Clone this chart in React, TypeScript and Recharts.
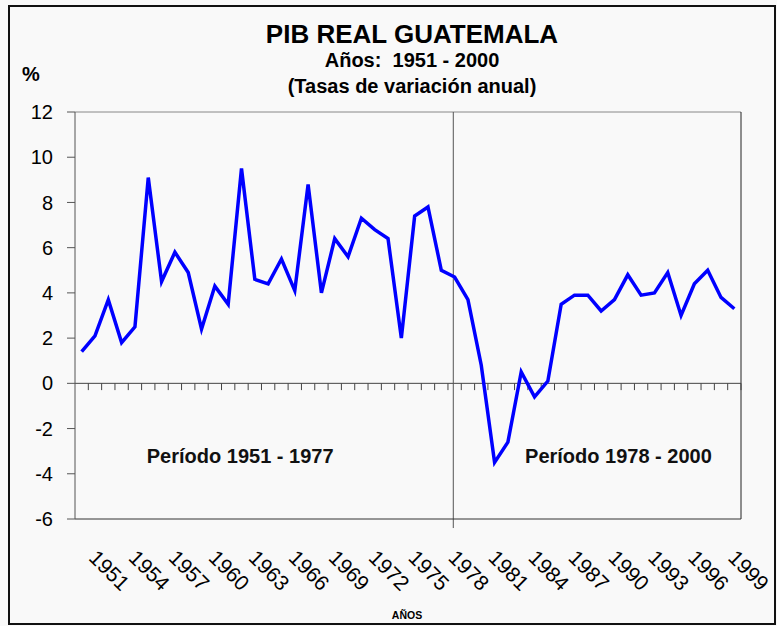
import { LineChart, Line, XAxis, YAxis, ReferenceLine, ReferenceDot } from 'recharts';

const years = [
  1951, 1952, 1953, 1954, 1955, 1956, 1957, 1958, 1959, 1960,
  1961, 1962, 1963, 1964, 1965, 1966, 1967, 1968, 1969, 1970,
  1971, 1972, 1973, 1974, 1975, 1976, 1977, 1978, 1979, 1980,
  1981, 1982, 1983, 1984, 1985, 1986, 1987, 1988, 1989, 1990,
  1991, 1992, 1993, 1994, 1995, 1996, 1997, 1998, 1999, 2000
];

// tasas de variacion anual (%)
const pibGrowth = [
  1.4, 2.1, 3.7, 1.8, 2.5, 9.1, 4.5, 5.8, 4.9, 2.4,
  4.3, 3.5, 9.5, 4.6, 4.4, 5.5, 4.1, 8.8, 4.0, 6.4,
  5.6, 7.3, 6.8, 6.4, 2.0, 7.4, 7.8, 5.0, 4.7, 3.7,
  0.8, -3.5, -2.6, 0.5, -0.6, 0.1, 3.5, 3.9, 3.9, 3.2,
  3.7, 4.8, 3.9, 4.0, 4.9, 3.0, 4.4, 5.0, 3.8, 3.3
];

const yearTicks = [1951, 1954, 1957, 1960, 1963, 1966, 1969, 1972, 1975, 1978, 1981, 1984, 1987, 1990, 1993, 1996, 1999];
const valueTicks = [-6, -4, -2, 0, 2, 4, 6, 8, 10, 12];

const periodLabels = [
  { text: 'Período 1951 - 1977', x: 1962.9, y: -3.22 },
  { text: 'Período 1978 - 2000', x: 1991.3, y: -3.22 }
];
const periodSplit = 1978.9;

const FONT = '"Liberation Sans", Arial, sans-serif';

const data = years.map((year, i) => ({ year, pib: pibGrowth[i] }));

function YearTick({ x, y, payload }: any) {
  return (
    <text
      transform={`translate(${x + 6},${y + 40}) rotate(45)`}
      fontSize={21}
      fontFamily={FONT}
      fill="#000"
    >
      {payload.value}
    </text>
  );
}

export default function App() {
  return (
    <div style={{ position: 'absolute', left: 0, top: 0, width: 777, height: 626, background: '#f9f9f9', fontFamily: FONT }}>
      <LineChart width={777} height={626} data={data} margin={{ top: 112, right: 36, bottom: 57, left: 0 }}>
        <XAxis
          dataKey="year"
          type="number"
          domain={[1950.5, 2000.5]}
          ticks={yearTicks}
          height={50}
          tickSize={0}
          tickMargin={0}
          tickLine={false}
          axisLine={{ stroke: '#333' }}
          tick={<YearTick />}
          interval={0}
        />
        <YAxis
          domain={[-6, 12]}
          ticks={valueTicks}
          width={75}
          tickSize={8}
          tickMargin={14}
          axisLine={{ stroke: '#555' }}
          tickLine={{ stroke: '#555' }}
          tick={{ fontSize: 20, fill: '#000', fontFamily: FONT }}
          interval={0}
        />
        <ReferenceLine y={12} stroke="#888" />
        <ReferenceLine x={2000.5} stroke="#222" />
        <ReferenceLine y={0} stroke="#444" />
        {years.map(yr => (
          <ReferenceLine
            key={yr}
            segment={[{ x: yr + 0.5, y: 0 }, { x: yr + 0.5, y: -0.3 }]}
            stroke="#444"
            ifOverflow="visible"
          />
        ))}
        <ReferenceLine
          segment={[{ x: periodSplit, y: 12 }, { x: periodSplit, y: -6.4 }]}
          stroke="#555"
          ifOverflow="visible"
        />
        {periodLabels.map(p => (
          <ReferenceDot
            key={p.text}
            x={p.x}
            y={p.y}
            r={0}
            fill="none"
            stroke="none"
            label={{ value: p.text, position: 'center', fontSize: 20, fontWeight: 'bold', fill: '#111', fontFamily: FONT }}
          />
        ))}
        <Line
          type="linear"
          dataKey="pib"
          stroke="#0000ff"
          strokeWidth={3.5}
          dot={false}
          isAnimationActive={false}
        />
      </LineChart>
      <svg width={777} height={626} style={{ position: 'absolute', left: 0, top: 0, pointerEvents: 'none' }}>
        <rect x={9} y={6} width={766} height={618} fill="none" stroke="#111" strokeWidth={2} />
        <g fontFamily={FONT} fontWeight="bold" fill="#000" textAnchor="middle">
          <text x={412} y={43} fontSize={26}>PIB REAL GUATEMALA</text>
          <text x={412} y={67} fontSize={20}>{'Años:\u00a0 1951 - 2000'}</text>
          <text x={412} y={93} fontSize={20}>(Tasas de variación anual)</text>
          <text x={22} y={81} fontSize={20} textAnchor="start">%</text>
          <text x={407} y={619} fontSize={10.5}>AÑOS</text>
        </g>
      </svg>
    </div>
  );
}
